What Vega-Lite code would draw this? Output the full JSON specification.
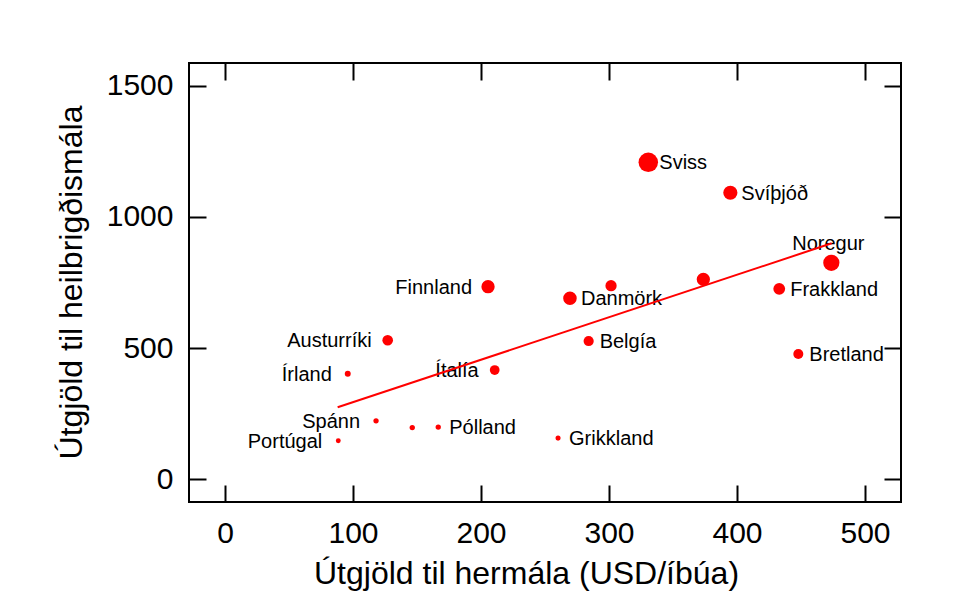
{
  "$schema": "https://vega.github.io/schema/vega-lite/v6.json",
  "width": 712,
  "height": 439,
  "autosize": {"type": "none"},
  "padding": {"left": 189, "top": 63, "right": 57, "bottom": 105},
  "background": "white",
  "config": {
    "font": "Liberation Sans",
    "view": {"stroke": "black", "strokeWidth": 2},
    "axis": {
      "grid": false,
      "domain": false,
      "tickColor": "black",
      "tickWidth": 2,
      "tickSize": -17,
      "labelFont": "Liberation Sans",
      "labelFontSize": 30,
      "labelColor": "black",
      "labelFlush": false,
      "labelOverlap": false,
      "titleFont": "Liberation Sans",
      "titleFontSize": 32,
      "titleFontWeight": "normal",
      "titleColor": "black"
    }
  },
  "datasets": {
    "lande": [
      {"land": "Sviss", "hermal": 330.7, "heilbr": 1208, "vaegi": 22},
      {"land": "Svíþjóð", "hermal": 394.8, "heilbr": 1092, "vaegi": 16},
      {"land": "Noregur", "hermal": 473.7, "heilbr": 825, "vaegi": 18.3},
      {"land": "Frakkland", "hermal": 433.0, "heilbr": 726, "vaegi": 13.3},
      {"land": "Bretland", "hermal": 447.9, "heilbr": 477.5, "vaegi": 11.3},
      {"land": "Holland", "hermal": 373.7, "heilbr": 762, "vaegi": 15},
      {"land": "Þýskaland", "hermal": 301.6, "heilbr": 738, "vaegi": 12.7},
      {"land": "Danmörk", "hermal": 269.5, "heilbr": 690, "vaegi": 15.3},
      {"land": "Belgía", "hermal": 284.1, "heilbr": 527, "vaegi": 11.5},
      {"land": "Finnland", "hermal": 205.5, "heilbr": 734, "vaegi": 15},
      {"land": "Ítalía", "hermal": 210.7, "heilbr": 416.5, "vaegi": 11},
      {"land": "Austurríki", "hermal": 127.1, "heilbr": 530, "vaegi": 12},
      {"land": "Írland", "hermal": 95.9, "heilbr": 402, "vaegi": 6.7},
      {"land": "Spánn", "hermal": 118.0, "heilbr": 223, "vaegi": 6},
      {"land": "Tékkland", "hermal": 146.3, "heilbr": 197, "vaegi": 6},
      {"land": "Pólland", "hermal": 166.6, "heilbr": 199, "vaegi": 6},
      {"land": "Portúgal", "hermal": 88.5, "heilbr": 147, "vaegi": 5.5},
      {"land": "Grikkland", "hermal": 260.2, "heilbr": 157, "vaegi": 5.7}
    ],
    "lina": [
      {"hermal": 88.0, "heilbr": 274.4},
      {"hermal": 474.0, "heilbr": 899.4}
    ]
  },
  "layer": [
    {
      "data": {"name": "lande"},
      "mark": {"type": "circle", "color": "#ff0000", "opacity": 1},
      "encoding": {
        "x": {
          "field": "hermal", "type": "quantitative",
          "scale": {"domain": [-28.125, 528.125], "nice": false, "zero": false},
          "axis": {
            "orient": "bottom",
            "values": [0, 100, 200, 300, 400, 500],
            "format": "d",
            "labelPadding": 33,
            "title": "Útgjöld til hermála (USD/íbúa)",
            "titleX": 337, "titleY": 81, "titleAlign": "center", "titleBaseline": "alphabetic"
          }
        },
        "y": {
          "field": "heilbr", "type": "quantitative",
          "scale": {"domain": [-86.5, 1586.6], "nice": false, "zero": false},
          "axis": {
            "orient": "left",
            "values": [0, 500, 1000, 1500],
            "format": "d",
            "labelPadding": 33,
            "title": "Útgjöld til heilbrigðismála",
            "titleX": -108, "titleY": 219, "titleAngle": -90, "titleAlign": "center", "titleBaseline": "alphabetic"
          }
        },
        "size": {
          "field": "vaegi", "type": "quantitative",
          "scale": {"type": "pow", "exponent": 2, "domain": [0, 22], "range": [0, 380]},
          "legend": null
        }
      }
    },
    {
      "data": {"name": "lande"},
      "transform": [{"filter": {"field": "land", "oneOf": ["Sviss", "Svíþjóð", "Frakkland", "Bretland", "Danmörk", "Belgía", "Pólland", "Grikkland"]}}],
      "mark": {"type": "text", "align": "left", "baseline": "middle", "dx": 11, "dy": 1, "fontSize": 20, "font": "Liberation Sans", "color": "black"},
      "encoding": {
        "x": {"field": "hermal", "type": "quantitative", "axis": null},
        "y": {"field": "heilbr", "type": "quantitative", "axis": null},
        "text": {"field": "land"}
      }
    },
    {
      "data": {"name": "lande"},
      "transform": [{"filter": {"field": "land", "oneOf": ["Finnland", "Ítalía", "Austurríki", "Írland", "Spánn", "Portúgal"]}}],
      "mark": {"type": "text", "align": "right", "baseline": "middle", "dx": -16, "dy": 1, "fontSize": 20, "font": "Liberation Sans", "color": "black"},
      "encoding": {
        "x": {"field": "hermal", "type": "quantitative", "axis": null},
        "y": {"field": "heilbr", "type": "quantitative", "axis": null},
        "text": {"field": "land"}
      }
    },
    {
      "data": {"name": "lande"},
      "transform": [{"filter": {"field": "land", "oneOf": ["Noregur"]}}],
      "mark": {"type": "text", "align": "center", "baseline": "alphabetic", "dx": -3, "dy": -12.5, "fontSize": 20, "font": "Liberation Sans", "color": "black"},
      "encoding": {
        "x": {"field": "hermal", "type": "quantitative", "axis": null},
        "y": {"field": "heilbr", "type": "quantitative", "axis": null},
        "text": {"field": "land"}
      }
    },
    {
      "data": {"name": "lina"},
      "mark": {"type": "line", "color": "#ff0000", "strokeWidth": 2},
      "encoding": {
        "x": {"field": "hermal", "type": "quantitative",
          "axis": {"orient": "top", "values": [0, 100, 200, 300, 400, 500], "labels": false, "title": null}},
        "y": {"field": "heilbr", "type": "quantitative",
          "axis": {"orient": "right", "values": [0, 500, 1000, 1500], "labels": false, "title": null}}
      }
    }
  ],
  "resolve": {"axis": {"x": "independent", "y": "independent"}}
}
